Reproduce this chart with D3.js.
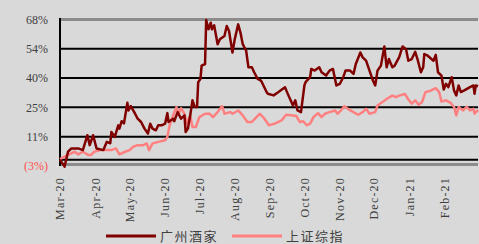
<!DOCTYPE html>
<html>
<head>
<meta charset="utf-8">
<script src="https://cdn.jsdelivr.net/npm/d3@7"></script>
<style>
  html, body { margin: 0; padding: 0; background: #d9d9d9; }
  svg { display: block; }
</style>
</head>
<body>
<div id="chart"></div>
<script>
// cumulative return (%) since 2020-03-01, x = days after start date
const startDate = new Date(2020, 2, 1);
const endDate = new Date(2021, 2, 2);

const gzjjDays = [0, 4, 7, 10, 16, 20, 24, 26, 29, 32, 38, 41, 44, 45, 48, 51, 52, 54, 56, 59,
  60, 62, 65, 68, 71, 74, 77, 79, 81, 84, 86, 89, 92, 94, 95, 99, 100, 103, 106, 109,
  110, 112, 114, 116, 117, 118, 120, 121, 123, 124, 127, 128, 130, 132, 133, 135, 138, 140, 144, 146,
  148, 151, 153, 156, 158, 160, 163, 165, 168, 170, 173, 176, 181, 182, 187, 191, 197, 200, 204, 206,
  208, 211, 214, 215, 219, 220, 223, 227, 229, 233, 236, 239, 242, 245, 248, 250, 254, 257, 259, 263,
  265, 268, 271, 274, 276, 278, 281, 284, 286, 288, 291, 293, 297, 300, 303, 305, 308, 311, 313, 316,
  318, 319, 322, 327, 329, 331, 334, 336, 338, 340, 343, 345, 347, 349, 351, 354, 359, 362, 363, 364, 366];
const gzjjVals = [0, -3.3, 3.9, 5.5, 5.5, 4.7, 11.9, 7.1, 11.9, 5.5, 4.7, 8.7, 8, 13.5, 11.1, 16.7, 15.1, 18.7, 17.6, 27.6,
  23.9, 26, 23.1, 19.9, 18.3, 15.1, 12.7, 17.5, 15.1, 14.3, 16.7, 16.7, 17.5, 22.6, 18.3, 19.9, 18.7, 23.1, 19.9, 21.5,
  13.5, 15.1, 21.5, 28.8, 27.2, 25.6, 25.6, 37.6, 39.2, 45.6, 46.4, 67.7, 63.2, 66.4, 63.2, 65.1, 56, 58.4, 60, 64.8,
  62.4, 52, 58.4, 65.6, 61.6, 56, 52.8, 44.8, 44.8, 42.4, 39.2, 38.4, 32.7, 32, 31.2, 32.7, 35.1, 31.2, 26.3, 28.8,
  23.9, 23.1, 36, 37.6, 40, 44, 43.2, 44.8, 42.4, 40.8, 43.2, 44, 36, 36.8, 40, 43.2, 43.2, 41.6, 46.4, 52,
  49.6, 48, 43.2, 38.4, 36, 43.2, 45.6, 54.9, 44.8, 48.8, 44.8, 45.6, 49.7, 54.9, 53.6, 48, 48.8, 52.3, 48.8, 42.4,
  44.8, 51.2, 50.4, 48, 50.8, 42.4, 40.8, 34, 36.8, 35.2, 40, 33.6, 31.2, 36, 32.8, 33.6, 35.2, 36, 32, 36, 35.6];

const szzzDays = [0, 4, 8, 13, 16, 20, 25, 27, 30, 35, 39, 45, 49, 52, 57, 61, 64, 68, 73, 76,
  78, 81, 86, 92, 94, 96, 99, 102, 104, 106, 109, 111, 114, 116, 119, 122, 127, 131, 134, 138,
  142, 144, 149, 151, 156, 160, 164, 168, 172, 175, 179, 182, 183, 188, 194, 198, 204, 207, 210, 213,
  216, 219, 222, 226, 229, 232, 236, 241, 243, 246, 249, 252, 257, 261, 265, 268, 271, 276, 278, 283,
  287, 291, 294, 297, 302, 305, 308, 311, 314, 317, 320, 325, 329, 332, 334, 338, 342, 345, 347, 349,
  353, 356, 359, 362, 363, 366];
const szzzVals = [0.3, 1.5, 2.6, 3.9, 2.6, 3.9, 2.3, 2.3, 3.9, 4.7, 4.7, 4.7, 5.5, 2.6, 3.9, 4.7, 6.3, 7.1, 7.1, 7.9,
  4.7, 7.9, 8.7, 9.5, 11.1, 16.7, 21.5, 25.5, 22.3, 25, 22.3, 17.5, 21.5, 15.9, 15.9, 20.7, 22.3, 22.3, 20.7, 23.1,
  26, 22.3, 23.1, 22.3, 23.9, 21.5, 18.3, 18.3, 20.7, 22.3, 19.9, 17.5, 16.7, 17.5, 19.1, 21.8, 21.5, 21.2, 18.3, 18.7,
  16.7, 17.5, 20.7, 22.6, 20.7, 22.3, 23.1, 23.9, 22.3, 23.9, 26, 24.7, 23.1, 21.8, 23.1, 24.7, 22.3, 23.1, 26.3, 28.2,
  29.8, 31.1, 30.3, 31.1, 31.9, 29.2, 27.2, 28.8, 26.7, 28, 32.8, 33.6, 34.7, 32.8, 28.2, 28.8, 27.6, 25.6, 21.5, 25.6,
  23.9, 25.6, 23.9, 24.7, 22.3, 24.2];

const yTicks = [-3, 11.2, 25.4, 39.6, 53.8, 68];
const monthTicks = ["2020-03-01", "2020-04-01", "2020-05-01", "2020-06-01", "2020-07-01", "2020-08-01",
  "2020-09-01", "2020-10-01", "2020-11-01", "2020-12-01", "2021-01-01", "2021-02-01"];
const seriesNames = ["广州酒家", "上证综指"];
const seriesColors = ["#800000", "#ff8080"];

const width = 479, height = 244;
const plotLeft = 60, plotRight = 478, plotTop = 19.4, plotBottom = 166;

const svg = d3.select("#chart").append("svg")
  .attr("width", width).attr("height", height);

const x = d3.scaleTime().domain([startDate, endDate]).range([plotLeft, plotRight]);
const y = d3.scaleLinear().domain([-3, 68]).range([plotBottom, plotTop]);

const fmtPct = v => v < 0 ? "(" + d3.format(".0f")(-v) + "%)" : d3.format(".0f")(v) + "%";

// gridlines
const grid = svg.append("g");
grid.selectAll("line")
  .data(yTicks)
  .enter().append("line")
  .attr("x1", plotLeft).attr("x2", plotRight)
  .attr("y1", d => d === -3 ? y(d) - 1.5 : y(d))
  .attr("y2", d => d === -3 ? y(d) - 1.5 : y(d))
  .attr("stroke", d => (d === 68 || d === -3) ? "#8c8c8c" : "#000")
  .attr("stroke-width", d => (d === 68 || d === -3) ? 3 : 2);

// zero line
svg.append("line")
  .attr("x1", plotLeft).attr("x2", plotRight)
  .attr("y1", y(0)).attr("y2", y(0))
  .attr("stroke", "#000").attr("stroke-width", 2);

// left axis
svg.append("line")
  .attr("x1", plotLeft).attr("x2", plotLeft)
  .attr("y1", plotTop - 1.5).attr("y2", plotBottom)
  .attr("stroke", "#000").attr("stroke-width", 2);

// y labels
svg.append("g").selectAll("text")
  .data(yTicks)
  .enter().append("text")
  .attr("x", 48)
  .attr("y", d => y(d))
  .attr("dy", "0.35em")
  .attr("text-anchor", "end")
  .style("font-family", "'Liberation Serif', serif")
  .style("font-size", "12px")
  .attr("fill", d => d < 0 ? "#ff5050" : "#404040")
  .text(fmtPct);

// x labels
const parse = d3.timeParse("%Y-%m-%d");
const fmtMonth = d3.timeFormat("%b-%y");
svg.append("g").selectAll("text")
  .data(monthTicks.map(parse))
  .enter().append("text")
  .attr("transform", d => `translate(${x(d)},177) rotate(-90)`)
  .attr("dy", "0.35em")
  .attr("text-anchor", "end")
  .style("font-family", "'Liberation Serif', serif")
  .style("font-size", "12px")
  .style("letter-spacing", "1.2px")
  .attr("fill", "#404040")
  .text(fmtMonth);

// lines
const line = d3.line()
  .x(d => x(d3.timeDay.offset(startDate, d[0])))
  .y(d => y(d[1]));

const series = [
  d3.zip(szzzDays, szzzVals),
  d3.zip(gzjjDays, gzjjVals)
];

svg.append("path")
  .datum(series[0])
  .attr("fill", "none")
  .attr("stroke", seriesColors[1])
  .attr("stroke-width", 2.5)
  .attr("stroke-linejoin", "round")
  .attr("d", line);

svg.append("path")
  .datum(series[1])
  .attr("fill", "none")
  .attr("stroke", seriesColors[0])
  .attr("stroke-width", 2.5)
  .attr("stroke-linejoin", "round")
  .attr("d", line);

// legend
const legendX = [106, 232];
const lg = svg.append("g").selectAll("g")
  .data(seriesNames)
  .enter().append("g")
  .attr("transform", (d, i) => `translate(${legendX[i]},236)`);

lg.append("line")
  .attr("x1", 0).attr("x2", 50)
  .attr("stroke", (d, i) => seriesColors[i])
  .attr("stroke-width", 3);

lg.append("text")
  .attr("x", 54)
  .attr("dy", "0.35em")
  .style("font-family", "'Noto Sans CJK SC', sans-serif")
  .style("font-size", "13px")
  .style("letter-spacing", "1.5px")
  .attr("fill", "#404040")
  .text(d => d);
</script>
</body>
</html>
